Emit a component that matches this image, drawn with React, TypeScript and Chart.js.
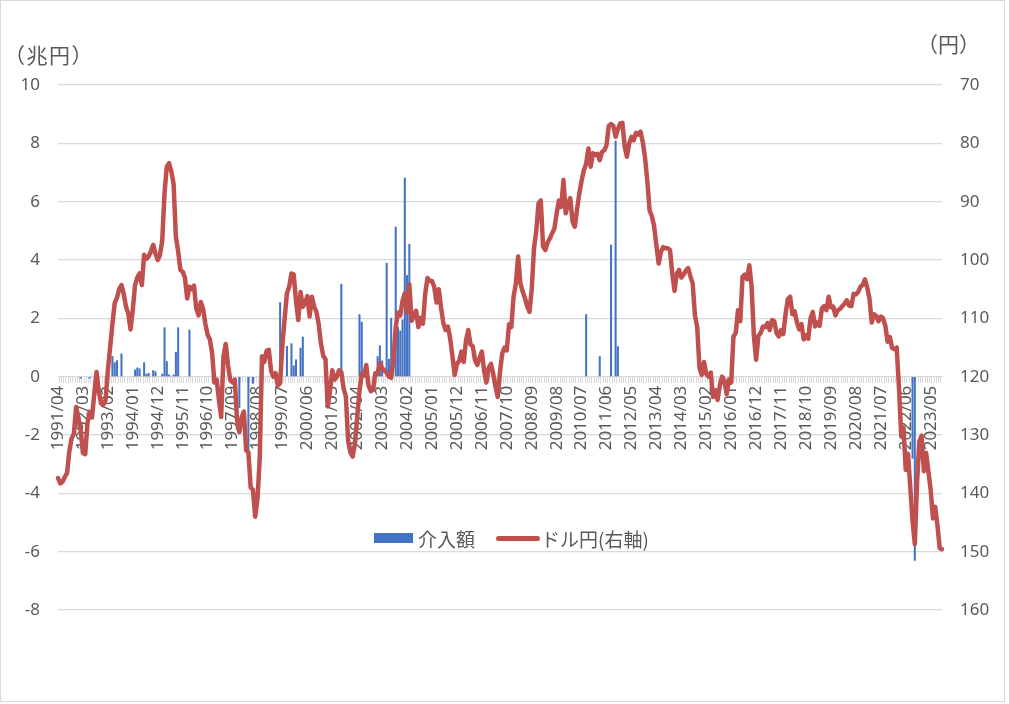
import { useEffect, useRef } from "react";
import { Chart, registerables } from "chart.js";

Chart.register(...registerables);

// ドル円 月末値 (1991/04 - 2023/10)
const usdJpy = [
  // 1991 (Apr-Dec)
  137.4, 138.3, 138.0, 137.2, 136.5, 132.8, 130.6, 129.8, 125.2,
  // 1992
  127.0, 129.2, 133.1, 133.3, 128.0, 126.0, 127.0, 123.0, 119.2, 122.5, 124.6, 124.8,
  // 1993
  124.0, 118.9, 115.0, 111.0, 107.4, 106.5, 105.0, 104.3, 105.8, 108.0, 109.2, 111.9,
  // 1994
  108.5, 104.3, 103.0, 102.3, 104.3, 99.1, 99.8, 99.4, 98.5, 97.4, 98.9, 100.0,
  // 1995
  99.1, 96.6, 88.5, 84.0, 83.4, 84.8, 87.0, 96.0, 98.5, 101.7, 102.0, 103.0,
  // 1996
  106.6, 104.6, 105.0, 104.4, 108.3, 109.5, 107.2, 108.3, 110.9, 112.8, 113.6, 116.0,
  // 1997
  121.0, 120.5, 124.0, 126.9, 116.5, 114.4, 118.0, 120.6, 121.0, 120.5, 127.5, 129.5,
  // 1998
  127.0, 126.0, 132.6, 133.0, 139.0, 139.4, 144.0, 141.0, 134.0, 116.5, 117.5, 115.6,
  // 1999
  115.4, 119.0, 120.0, 119.4, 121.5, 121.1, 114.5, 110.0, 105.7, 104.6, 102.3, 102.5,
  // 2000
  107.0, 110.3, 105.5, 108.0, 107.4, 106.2, 109.7, 106.3, 108.0, 108.9, 111.0, 114.3,
  // 2001
  116.4, 117.0, 125.1, 122.5, 118.9, 120.5, 120.0, 118.9, 119.2, 122.0, 123.4, 131.0,
  // 2002
  133.0, 133.7, 131.5, 127.0, 122.5, 119.5, 119.8, 118.0, 121.5, 122.5, 122.3, 119.4,
  // 2003
  119.5, 117.7, 118.5, 119.0, 119.3, 120.0, 120.2, 117.0, 111.5, 109.0, 109.5, 107.0,
  // 2004
  105.7, 109.0, 104.2, 110.4, 109.6, 108.7, 111.5, 109.9, 110.9, 105.8, 103.1, 103.6,
  // 2005
  103.6, 104.6, 107.3, 105.0, 108.2, 110.8, 112.0, 111.4, 113.4, 116.4, 119.7, 117.8,
  // 2006
  117.3, 115.7, 117.5, 113.8, 112.0, 114.5, 114.8, 117.2, 118.0, 116.8, 115.7, 119.0,
  // 2007
  121.0, 118.5, 117.8, 119.5, 121.7, 123.5, 119.2, 116.0, 115.0, 115.5, 111.0, 111.5,
  // 2008
  106.3, 104.0, 99.4, 104.0, 105.4, 106.5, 108.0, 108.9, 105.0, 98.0, 95.0, 90.3,
  // 2009
  89.8, 97.7, 98.3, 97.0, 96.3, 95.4, 94.6, 92.0, 89.8, 90.9, 86.3, 92.0,
  // 2010
  90.3, 89.4, 93.4, 94.3, 91.3, 88.6, 86.4, 84.6, 83.5, 80.9, 84.0, 81.7,
  // 2011
  82.0, 81.8, 82.9, 81.5, 81.2, 80.3, 77.0, 76.7, 77.0, 78.9, 77.6, 76.6,
  // 2012
  76.5, 80.5, 82.3, 80.0, 78.9, 79.5, 78.2, 78.5, 78.0, 79.8, 82.5, 86.5,
  // 2013
  91.5, 92.5, 94.2, 97.5, 100.6, 98.6, 97.8, 98.0, 98.0, 98.3, 102.3, 105.3,
  // 2014
  102.3, 101.7, 103.0, 102.5, 101.8, 101.4, 102.8, 104.0, 109.5, 111.5, 118.5, 119.7,
  // 2015
  117.5, 119.5, 120.0, 119.3, 123.5, 122.3, 124.0, 121.5, 120.0, 120.7, 123.0, 120.5,
  // 2016
  121.0, 113.1, 112.5, 108.6, 110.5, 102.9, 102.5, 103.3, 100.9, 104.5, 113.0, 117.1,
  // 2017
  113.0, 112.5, 111.4, 111.5, 110.8, 112.0, 110.3, 110.5, 112.5, 113.1, 112.0, 112.7,
  // 2018
  109.2, 106.7, 106.3, 109.3, 108.8, 110.7, 111.9, 111.0, 113.6, 112.9, 113.5, 110.0,
  // 2019
  108.9, 111.4, 110.7, 111.3, 108.3, 107.9, 108.6, 106.3, 108.1, 108.0, 109.5, 108.6,
  // 2020
  108.4, 107.9, 107.5, 106.9, 107.8, 107.9, 105.8, 105.9, 105.5, 104.6, 104.3, 103.3,
  // 2021
  104.7, 106.6, 110.7, 109.3, 109.6, 110.5, 109.7, 110.0, 111.3, 114.0, 113.2, 115.1,
  // 2022
  115.3, 115.0, 121.7, 130.0, 128.7, 136.0, 133.2, 138.9, 144.7, 148.7, 138.1, 131.1,
  // 2023 (Jan-Oct)
  130.1, 136.2, 133.1, 136.3, 139.4, 144.3, 142.3, 145.5, 149.4, 149.6,
];

// 為替介入額 (兆円、プラスは円売り・マイナスは円買い)
const interventionMonths = [
  "1992/02", "1992/06", "1993/04", "1993/05", "1993/06", "1993/08",
  "1994/02", "1994/03", "1994/04", "1994/06", "1994/07", "1994/08",
  "1994/10", "1994/11", "1995/02", "1995/03", "1995/04", "1995/05",
  "1995/07", "1995/08", "1995/09", "1996/02", "1997/12", "1998/04",
  "1998/06", "1999/06", "1999/09", "1999/11", "1999/12", "2000/01",
  "2000/03", "2000/04", "2001/09", "2002/05", "2002/06", "2003/01",
  "2003/02", "2003/03", "2003/05", "2003/06", "2003/07", "2003/09",
  "2003/10", "2003/11", "2003/12", "2004/01", "2004/02", "2004/03",
  "2010/09", "2011/03", "2011/08", "2011/10", "2011/11", "2022/09",
  "2022/10",
];
const interventionAmounts = [
  -0.05, -0.05, 0.69, 0.48, 0.55, 0.78,
  0.23, 0.3, 0.27, 0.48, 0.09, 0.11,
  0.21, 0.17, 0.09, 1.68, 0.52, 0.06,
  0.06, 0.83, 1.68, 1.6, -1.06, -2.62,
  -0.23, 2.54, 1.04, 1.13, 0.37, 0.58,
  0.98, 1.36, 3.17, 2.13, 1.87, 0.69,
  1.06, 0.54, 3.89, 0.6, 2.01, 5.13,
  1.69, 1.57, 1.95, 6.81, 3.47, 4.54,
  2.13, 0.69, 4.51, 8.08, 1.03, -2.8,
  -6.3,
];

const labelStep = 11;
const monthLabels = usdJpy.map((_, i) => {
  const t = 3 + i;
  const y = 1991 + Math.floor(t / 12);
  const m = (t % 12) + 1;
  return `${y}/${String(m).padStart(2, "0")}`;
});

const interventionSeries: (number | null)[] = monthLabels.map((label) => {
  const k = interventionMonths.indexOf(label);
  return k >= 0 ? interventionAmounts[k] : null;
});

const textColor = "#595959";
const gridColor = "#d9d9d9";
const fontFamily = "'Noto Sans', 'Noto Sans CJK JP', sans-serif";
const cjkFont = "'Noto Sans CJK JP', 'Noto Sans', sans-serif";

export default function App() {
  const chartRef = useRef<Chart | null>(null);
  const canvasRef = useRef<HTMLCanvasElement | null>(null);

  useEffect(() => {
    document.body.style.margin = "0";

    if (chartRef.current) {
      chartRef.current.destroy();
    }

    const ctx = canvasRef.current?.getContext("2d");
    if (ctx) {
      chartRef.current = new Chart(ctx, {
        type: "bar",
        data: {
          labels: monthLabels,
          datasets: [
            {
              type: "line",
              label: "ドル円(右軸)",
              data: usdJpy,
              yAxisID: "y1",
              borderColor: "#C0504D",
              backgroundColor: "#C0504D",
              borderWidth: 4.5,
              borderJoinStyle: "round",
              borderCapStyle: "round",
              pointRadius: 0,
              tension: 0,
              order: 0,
            },
            {
              type: "bar",
              label: "介入額",
              data: interventionSeries,
              yAxisID: "y",
              backgroundColor: "#4472C4",
              barThickness: 1.4,
              order: 1,
            },
          ] as any,
        },
        options: {
          animation: false,
          responsive: true,
          maintainAspectRatio: false,
          layout: { padding: { top: 84, bottom: 91, left: 0, right: 0 } },
          plugins: {
            legend: { display: false },
            tooltip: { enabled: false },
          },
          scales: {
            x: {
              type: "category",
              position: { y: 0 } as any,
              offset: false,
              grid: {
                display: true,
                drawOnChartArea: false,
                drawTicks: true,
                tickLength: 6,
                color: gridColor,
                lineWidth: 1,
              },
              border: { display: true, color: gridColor, width: 1 },
              ticks: {
                autoSkip: false,
                minRotation: 90,
                maxRotation: 90,
                padding: 3,
                color: textColor,
                font: { family: fontFamily, size: 17 },
                callback: (_v: any, i: number) =>
                  i % labelStep === 0 ? monthLabels[i] : "",
              },
            },
            y: {
              position: "left",
              min: -8,
              max: 10,
              ticks: {
                stepSize: 2,
                padding: 18,
                color: textColor,
                font: { family: fontFamily, size: 17 },
              },
              grid: { color: gridColor, lineWidth: 1.3, drawTicks: false },
              border: { display: false },
              afterFit: (s: any) => {
                s.width = 57;
              },
            },
            y1: {
              position: "right",
              reverse: true,
              min: 70,
              max: 160,
              ticks: {
                stepSize: 10,
                padding: 18,
                color: textColor,
                font: { family: fontFamily, size: 17 },
              },
              grid: { display: false, drawTicks: false },
              border: { display: false },
              afterFit: (s: any) => {
                s.width = 62;
              },
            },
          },
        } as any,
      });
    }

    return () => {
      if (chartRef.current) {
        chartRef.current.destroy();
        chartRef.current = null;
      }
    };
  }, []);

  return (
    <div
      style={{
        position: "relative",
        width: 1003,
        height: 700,
        border: "1px solid #d9d9d9",
        background: "#ffffff",
        fontFamily: cjkFont,
        color: textColor,
      }}
    >
      <div style={{ position: "absolute", left: 0, top: 0, width: 1003, height: 700 }}>
        <canvas ref={canvasRef} />
      </div>
      <div style={{ position: "absolute", left: 3, top: 43, fontSize: 21, lineHeight: "21px", letterSpacing: 1.5, whiteSpace: "nowrap" }}>
        （兆円）
      </div>
      <div style={{ position: "absolute", left: 916, top: 32, fontSize: 21, lineHeight: "21px", whiteSpace: "nowrap" }}>
        （円）
      </div>
      <div style={{ position: "absolute", left: 373, top: 532, width: 39, height: 10, background: "#4472C4" }} />
      <div style={{ position: "absolute", left: 417, top: 527, fontSize: 19, lineHeight: "21px", whiteSpace: "nowrap" }}>
        介入額
      </div>
      <div style={{ position: "absolute", left: 495, top: 535, width: 44, height: 5, borderRadius: 2.5, background: "#C0504D" }} />
      <div style={{ position: "absolute", left: 540, top: 527, fontSize: 19, lineHeight: "21px", whiteSpace: "nowrap" }}>
        ドル円(右軸)
      </div>
    </div>
  );
}
